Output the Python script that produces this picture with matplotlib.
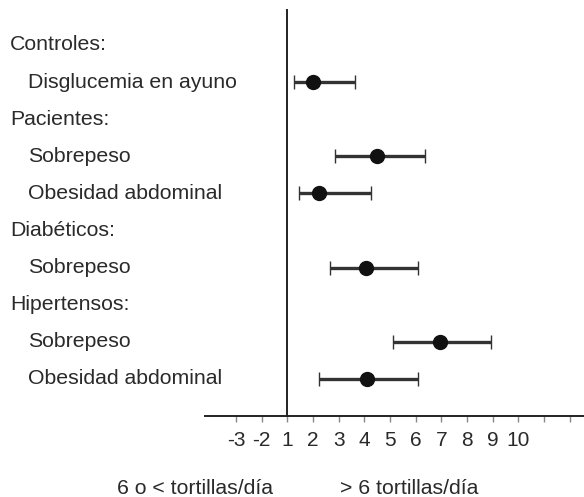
import numpy as np
import matplotlib.pyplot as plt

plt.rcParams['font.family'] = ['Liberation Sans', 'DejaVu Sans']

# filas del gráfico (encabezados de grupo y subgrupos)
labels = ['Controles:', 'Disglucemia en ayuno', 'Pacientes:', 'Sobrepeso',
          'Obesidad abdominal', 'Diabéticos:', 'Sobrepeso', 'Hipertensos:',
          'Sobrepeso', 'Obesidad abdominal']
is_header = [True, False, True, False, False, True, False, True, False, False]

# filas con estimación, OR y su intervalo
rows = [1, 3, 4, 6, 8, 9]
est = [2.0, 4.5, 2.25, 4.05, 6.95, 4.1]
low = [1.25, 2.85, 1.45, 2.65, 5.1, 2.25]
high = [3.65, 6.35, 4.25, 6.1, 8.95, 6.1]

tick_pos = np.arange(-1, 13)
tick_lab = ['-3', '-2', '1', '2', '3', '4', '5', '6', '7', '8', '9', '10', '', '']

fig = plt.figure(figsize=(5.84, 4.97), dpi=100)
ax = fig.add_axes([0, 0, 1, 1])
ax.set_xlim(-10.2, 12.56)
ax.set_ylim(12.18, -1.21)

est = np.array(est)
err = [est - np.array(low), np.array(high) - est]
ax.errorbar(est, rows, xerr=err, fmt='o', color='#111111', ecolor='#333333',
            elinewidth=2.4, capsize=4.7, capthick=1.0, markersize=10, zorder=3)

for i, t in enumerate(labels):
    x = -9.8 if is_header[i] else -9.1
    ax.text(x, i, t, fontsize=15.3, color='#2a2a2a', va='center', ha='left')

# ejes: línea vertical en 1 y eje horizontal con marcas
for s in ['top', 'right']:
    ax.spines[s].set_visible(False)
ax.spines['left'].set_position(('data', 1))
ax.spines['left'].set_bounds(-0.95, 10)
ax.spines['bottom'].set_position(('data', 10))
ax.spines['bottom'].set_bounds(-2.2, 12.56)
for s in ['left', 'bottom']:
    ax.spines[s].set_linewidth(1.4)
    ax.spines[s].set_color('#222222')
ax.set_yticks([])
ax.set_xticks(tick_pos)
ax.set_xticklabels(tick_lab)
ax.tick_params(axis='x', direction='out', length=4, width=1, color='#888888',
               pad=7, labelsize=15, labelcolor='#2a2a2a')

ax.text(-2.6, 11.95, '6 o < tortillas/día', fontsize=15.3, color='#2a2a2a',
        ha='center', va='center')
ax.text(3.05, 11.95, '> 6 tortillas/día', fontsize=15.3, color='#2a2a2a',
        ha='left', va='center')

fig.savefig('out.png', dpi=100)
